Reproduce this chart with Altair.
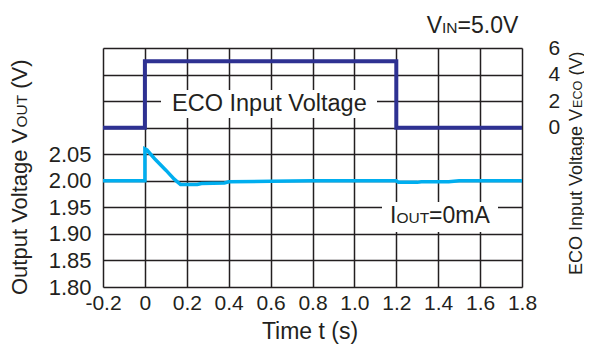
import altair as alt
import pandas as pd

# ---------------- data ----------------
t_eco = [-0.2, 0.0, 0.0, 1.2, 1.2, 1.8]
v_eco = [0.0, 0.0, 5.0, 5.0, 0.0, 0.0]

t_out = [-0.2, 0.0, 0.0, 0.01, 0.05, 0.10, 0.14, 0.17, 0.25, 0.27, 0.38, 0.40, 0.60, 0.80,
         1.20, 1.21, 1.30, 1.32, 1.45, 1.50, 1.80]
v_out = [2.000, 2.000, 2.060, 2.058, 2.040, 2.020, 2.003, 1.993, 1.993, 1.995, 1.996, 1.998,
         1.999, 2.000, 2.000, 1.997, 1.997, 1.998, 1.998, 2.000, 2.000]

x_ticks = [-0.2, 0.0, 0.2, 0.4, 0.6, 0.8, 1.0, 1.2, 1.4, 1.6, 1.8]
y_left_grid = [1.80, 1.85, 1.90, 1.95, 2.00, 2.05, 2.10, 2.15, 2.20, 2.25]
y_right_ticks = [0, 2, 4, 6]

# ---------------- styling ----------------
W, H = 419, 239
FONT = "Liberation Sans"
INK = "#231f20"
ECO_COLOR = "#2e3192"
OUT_COLOR = "#00aeef"

# Arial / Liberation Sans advance widths (per 1000 em)
AW = {' ': 278, '(': 333, ')': 333, '=': 584, '.': 278, '0': 556, '5': 556,
      'A': 667, 'C': 722, 'E': 667, 'I': 278, 'N': 722, 'O': 778, 'T': 611, 'U': 722,
      'V': 667, 'a': 556, 'e': 556, 'g': 556, 'i': 222, 'l': 222, 'm': 833, 'n': 556,
      'o': 556, 'p': 556, 's': 500, 't': 278, 'u': 556}


def tw(s, size):
    return sum(AW.get(c, 556) for c in s) * size / 1000.0


eco_df = pd.DataFrame({"t": t_eco, "veco": v_eco, "i": list(range(len(t_eco)))})
out_df = pd.DataFrame({"t": t_out, "vout": v_out, "i": list(range(len(t_out)))})
one = pd.DataFrame({"k": [0]})

x_enc = alt.X(
    "t:Q",
    scale=alt.Scale(domain=[-0.2, 1.8], nice=False, zero=False),
    axis=alt.Axis(values=x_ticks, grid=True, gridColor=INK, gridWidth=1.5, domain=False,
                  ticks=False, labelFont=FONT, labelFontSize=21, labelColor=INK,
                  labelPadding=5, labelFlush=False, labelOverlap=False,
                  labelExpr="abs(datum.value) < 1e-9 ? '0' : (datum.value < 0 ? '-' + format(-datum.value, '.1f') : format(datum.value, '.1f'))",
                  title=None),
)

y_left = alt.Y(
    "vout:Q",
    scale=alt.Scale(domain=[1.80, 2.25], nice=False, zero=False),
    axis=alt.Axis(values=y_left_grid, grid=True, gridColor=INK, gridWidth=1.5, domain=False,
                  ticks=False, labelFont=FONT, labelFontSize=22, labelColor=INK,
                  labelPadding=12, labelFlush=False, labelOverlap=False,
                  labelExpr="datum.value > 2.06 ? '' : format(datum.value, '.2f')",
                  title=None),
)

y_right = alt.Y(
    "veco:Q",
    scale=alt.Scale(domain=[-12, 6], nice=False, zero=False),
    axis=alt.Axis(orient="right", values=y_right_ticks, grid=False, domain=False, ticks=False,
                  labelFont=FONT, labelFontSize=21, labelColor=INK, labelPadding=26,
                  labelFlush=False, labelOverlap=False, format="d", title=None),
)

out_line = alt.Chart(out_df).mark_line(color=OUT_COLOR, strokeWidth=3.5).encode(
    x=x_enc, y=y_left, order="i:Q")
eco_line = alt.Chart(eco_df).mark_line(color=ECO_COLOR, strokeWidth=4).encode(
    x=x_enc, y=y_right, order="i:Q")


def box(x1, x2, y1, y2):
    return alt.Chart(one).mark_rect(color="white").encode(
        x=alt.value(x1), x2=alt.value(x2), y=alt.value(y1), y2=alt.value(y2))


def txt(s, x, y, size, align="left", angle=0):
    return alt.Chart(one).mark_text(text=s, font=FONT, fontSize=size, color=INK,
                                    align=align, baseline="alphabetic", angle=angle).encode(
        x=alt.value(x), y=alt.value(y))


layers = [out_line, eco_line,
          box(58, 274, 42, 70), box(279, 395, 154, 184)]

# ECO Input Voltage annotation
layers.append(txt("ECO Input Voltage", 166.4, 62.7, 23.5, align="center"))

# IOUT=0mA
F, S = 23, 15.5
x0 = 287
layers.append(txt("I", x0, 175, F))
x0 += tw("I", F)
layers.append(txt("OUT", x0, 175, S))
x0 += tw("OUT", S)
layers.append(txt("=0mA", x0, 175, F))

# VIN=5.0V
x0 = 323.7
layers.append(txt("V", x0, -15, F))
x0 += tw("V", F)
layers.append(txt("IN", x0, -15, S))
x0 += tw("IN", S)
layers.append(txt("=5.0V", x0, -15, F))

# x-axis title
layers.append(txt("Time t (s)", 207, 291, 23, align="center"))

# left axis title (rotated)
F, S = 22, 15.4
y0 = 247
lx = -76.5
layers.append(txt("Output Voltage V", lx, y0, F, angle=270))
y0 -= tw("Output Voltage V", F)
layers.append(txt("OUT", lx, y0, S, angle=270))
y0 -= tw("OUT", S) + tw(" ", F)
layers.append(txt("(V)", lx, y0, F, angle=270))

# right axis title (rotated)
F, S = 18, 12.6
y0 = 227
rx = 478.5
layers.append(txt("ECO Input Voltage V", rx, y0, F, angle=270))
y0 -= tw("ECO Input Voltage V", F)
layers.append(txt("ECO", rx, y0, S, angle=270))
y0 -= tw("ECO", S) + tw(" ", F)
layers.append(txt("(V)", rx, y0, F, angle=270))

chart = alt.layer(*layers).resolve_scale(y="independent").properties(
    width=W, height=H,
    autosize=alt.AutoSizeParams(type="none"),
    padding={"left": 95, "top": 40, "right": 62, "bottom": 58},
).configure_view(stroke=INK, strokeWidth=1.5).configure(background="white")

chart.save("out.html", embed_options={"renderer": "svg", "actions": False})
